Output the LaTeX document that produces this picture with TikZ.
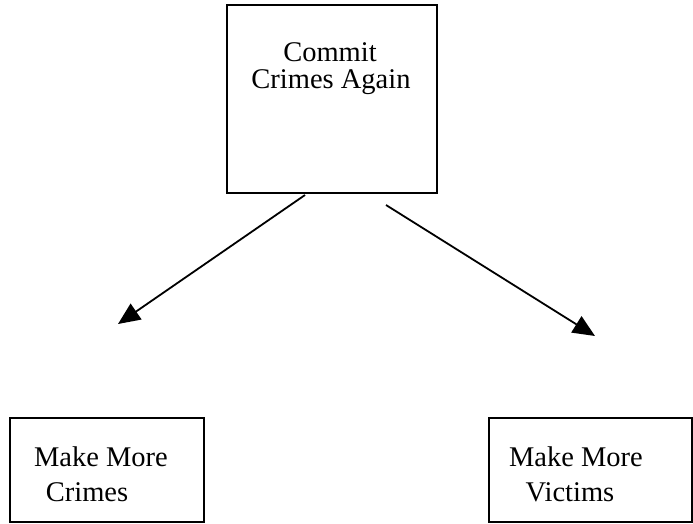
\documentclass[tikz,border=0pt]{standalone}
\usepackage{fontspec}
\setmainfont{Liberation Serif}
\usetikzlibrary{arrows.meta,positioning}

\tikzset{
  box/.style={draw,line width=2pt,inner sep=0pt},
  txt/.style={inner sep=0pt,font=\fontsize{28.5}{34}\selectfont},
  arr/.style={line width=1.8pt,-{Triangle[length=22pt,width=19pt]}}
}

\begin{document}
\begin{tikzpicture}[x=1pt,y=1pt,yscale=-1]
  \useasboundingbox (0,0) rectangle (693,523);

  % boxes
  \node [box,minimum width=210pt,minimum height=188pt] (again) at (332,99) {};
  \node [box,minimum width=194pt,minimum height=104pt] (crimes) at (107,470) {};
  \node [box,minimum width=203pt,minimum height=104pt] (victims) at (590,470) {};

  % texts
  \node [txt] (againA) at (330,52) {Commit};
  \node [txt] (againB) at (331,82) {Crimes Again};
  \node [txt] (crimesA) at (101,457) {Make More};
  \node [txt] (crimesB) at (87,492) {Crimes};
  \node [txt] (victimsA) at (576,457) {Make More};
  \node [txt] (victimsB) at (570,492) {Victims};

  % arrow ends
  \coordinate (leftS) at (305,195);
  \coordinate (leftE) at (118,324);
  \coordinate (rightS) at (386,205);
  \coordinate (rightE) at (595,336);

  \draw [arr] (leftS) -- (leftE);
  \draw [arr] (rightS) -- (rightE);
\end{tikzpicture}
\end{document}
